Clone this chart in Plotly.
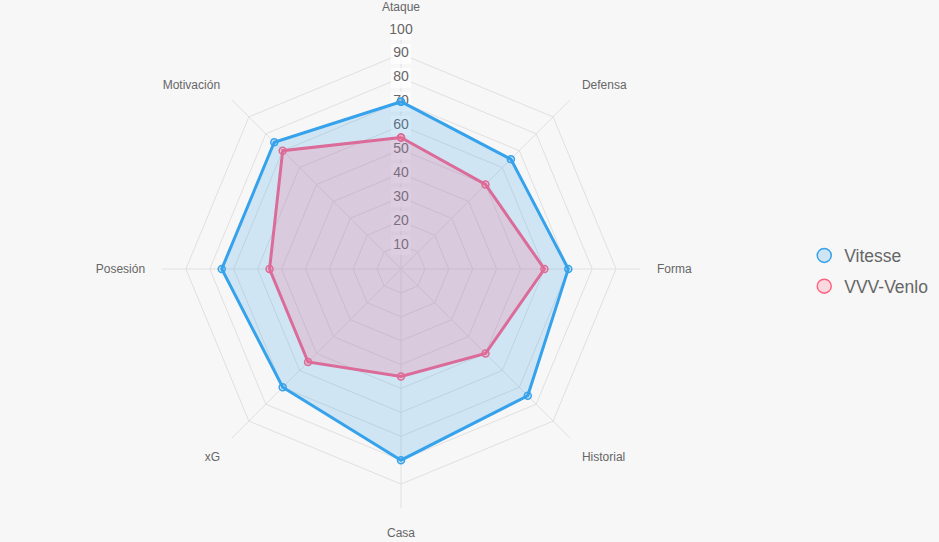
import plotly.graph_objects as go

categories = ["Ataque", "Defensa", "Forma", "Historial", "Casa", "xG", "Posesión", "Motivación"]
vitesse = [70, 65, 70, 75, 80, 70, 75, 75]
venlo = [55, 50, 60, 50, 45, 55, 55, 70]
tick_values = [10, 20, 30, 40, 50, 60, 70, 80, 90, 100]

BLUE = "rgb(54,162,235)"
PINK = "rgb(219,107,152)"
FONT = "Liberation Sans, Arial, Helvetica, sans-serif"

fig = go.Figure()

# radial tick labels (centered on the top spoke, with light backdrop)
fig.add_trace(go.Scatterpolar(
    r=tick_values, theta=[categories[0]] * len(tick_values),
    mode="markers+text", text=[str(v) for v in tick_values],
    textposition="middle center",
    textfont=dict(family=FONT, size=14, color="#666"),
    marker=dict(symbol="square", size=20, color="rgba(255,255,255,0.75)", line=dict(width=0)),
    showlegend=False, hoverinfo="skip"))

for name, vals, col, fillc in [
    ("Vitesse", vitesse, BLUE, "rgba(54,162,235,0.2)"),
    ("VVV-Venlo", venlo, PINK, "rgba(255,99,132,0.2)"),
]:
    fig.add_trace(go.Scatterpolar(
        r=vals + vals[:1], theta=categories + categories[:1],
        mode="lines+markers", fill="toself", fillcolor=fillc,
        line=dict(color=col, width=3),
        marker=dict(symbol="circle", size=7, color=fillc, line=dict(color=col, width=1.5)),
        name=name, showlegend=False))

# legend entries
for name, col, fillc in [
    ("Vitesse", BLUE, "rgba(54,162,235,0.2)"),
    ("VVV-Venlo", "rgb(255,99,132)", "rgba(255,99,132,0.2)"),
]:
    fig.add_trace(go.Scatterpolar(
        r=[None], theta=[categories[0]], mode="markers", name=name, legendgroup=name,
        marker=dict(symbol="circle", size=14, color=fillc, line=dict(color=col, width=1.5))))

fig.update_layout(
    width=939, height=542,
    margin=dict(l=0, r=0, t=0, b=0),
    paper_bgcolor="#f7f7f7",
    plot_bgcolor="#f7f7f7",
    font=dict(family=FONT, color="#666"),
    polar=dict(
        domain=dict(x=[162 / 939, 640 / 939], y=[34 / 542, 512 / 542]),
        bgcolor="rgba(0,0,0,0)",
        gridshape="linear",
        radialaxis=dict(range=[0, 100], tickvals=tick_values, showticklabels=False,
                        ticks="", showline=False, gridcolor="#e0e0e0", gridwidth=1, angle=90),
        angularaxis=dict(direction="clockwise", rotation=90, gridcolor="#e0e0e0",
                         linecolor="#e0e0e0", linewidth=1, showline=False,
                         ticks="outside", ticklen=14, tickcolor="rgba(0,0,0,0)",
                         tickfont=dict(family=FONT, size=12, color="#666")),
    ),
    legend=dict(x=0.8565, y=0.5, xanchor="left", yanchor="middle",
                font=dict(family=FONT, size=17.5, color="#666"),
                bgcolor="rgba(0,0,0,0)", tracegroupgap=5),
)

fig.write_html("out.html")
